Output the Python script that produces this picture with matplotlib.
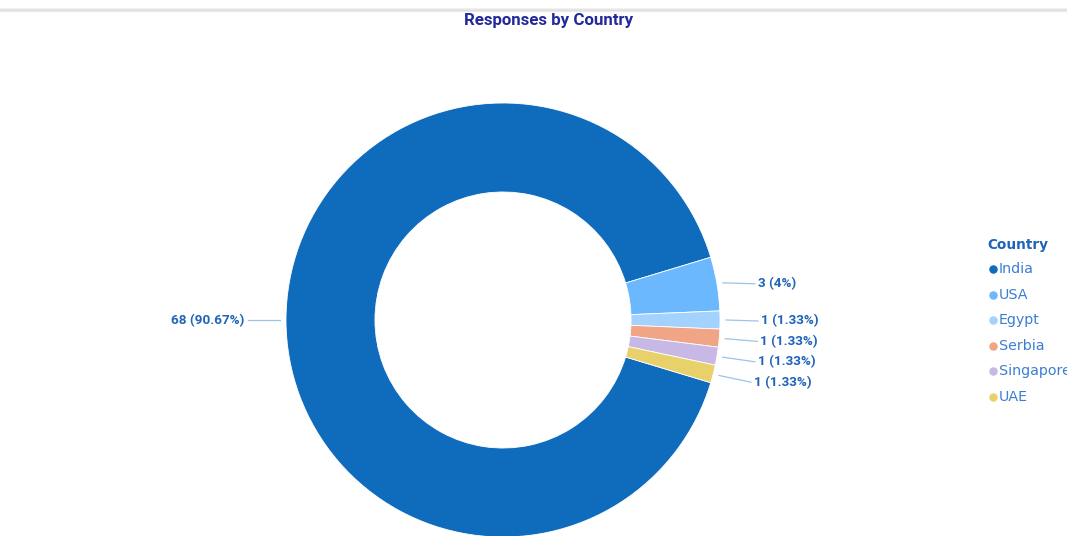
import numpy as np
import matplotlib.pyplot as plt

countries = ["India", "USA", "Egypt", "Serbia", "Singapore", "UAE"]
responses = [68, 3, 1, 1, 1, 1]
colors = ["#0f6cbd", "#6cb8ff", "#a3d2ff", "#f0a586", "#c8b8e6", "#e8d06a"]

W, H = 1067, 536
fig = plt.figure(figsize=(W / 100, H / 100), dpi=100)
ax = fig.add_axes([0, 0, 1, 1])

cx, cy = 503, H - 320
R = 217
ring = 0.41

total = sum(responses)
small_share = 360 * (total - responses[0]) / total
start = -small_share / 2

wedges, _ = ax.pie(responses, colors=colors, startangle=start, counterclock=False,
                   radius=R, center=(cx, cy), frame=True,
                   wedgeprops=dict(width=R * ring, edgecolor="white", linewidth=0.6))
ax.set_xlim(0, W)
ax.set_ylim(0, H)
ax.set_aspect("equal")
ax.axis("off")

# top header shadow
for i, a in enumerate([0.04, 0.07, 0.10, 0.06]):
    ax.axhline(H - 8 - i, color="#000000", alpha=a, lw=1)

ax.text(549, H - 20, "Responses by Country", ha="center", va="center",
        fontsize=12.2, fontweight="bold", color="#22299a", family="Roboto")

lab_color = "#1f64b8"
line_color = "#9cc4e8"
prev_y = None
for w, v in zip(wedges, responses):
    mid = np.deg2rad((w.theta1 + w.theta2) / 2)
    pct = round(100 * v / total, 2)
    txt = f"{v} ({pct:g}%)"
    x0 = cx + (R + 6) * np.cos(mid)
    y0 = cy + (R + 6) * np.sin(mid)
    if np.cos(mid) < -0.5:
        x1 = x0 - 32
        ax.plot([x0, x1], [y0, y0], color=line_color, lw=0.9)
        ax.text(x1 - 4, y0 - 1, txt, ha="right", va="center", fontsize=9.7,
                fontweight="bold", color=lab_color, family="Roboto")
        continue
    y1 = y0 - 1
    if prev_y is not None and y1 > prev_y - 20.4:
        y1 = prev_y - 20.4
    prev_y = y1
    x1 = x0 + 32
    ax.plot([x0, x1], [y0, y1], color=line_color, lw=0.9)
    ax.text(x1 + 3, y1, txt, ha="left", va="center", fontsize=9.7,
            fontweight="bold", color=lab_color, family="Roboto")

# legend
ax.text(987, H - 245, "Country", ha="left", va="center", fontsize=9.8,
        fontweight="bold", color="#1f64b8")
for i, (name, c) in enumerate(zip(countries, colors)):
    yy = H - 269 - i * 25.6
    ax.scatter([993], [yy], s=26, color=c, zorder=3)
    ax.text(999, yy, name, ha="left", va="center", fontsize=10.3, color="#3a7fd2")

fig.savefig("out.png", dpi=100)
